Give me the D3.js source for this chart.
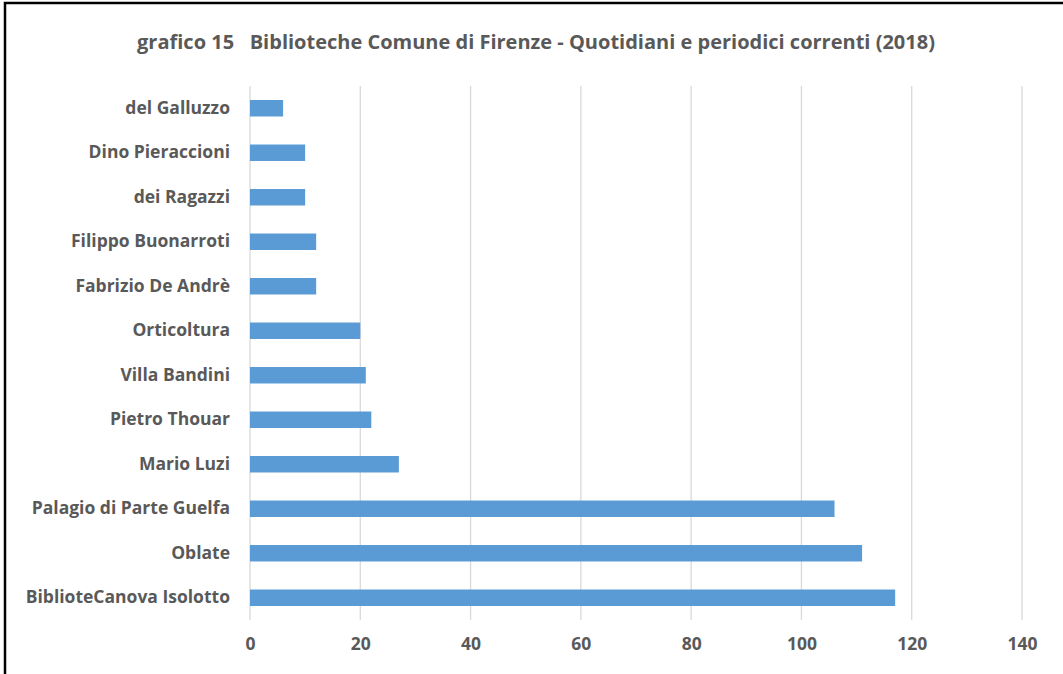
<!DOCTYPE html>
<html>
<head>
<meta charset="utf-8">
<script src="https://cdn.jsdelivr.net/npm/d3@7"></script>
<style>
  body { margin: 0; background: #fff; }
  text { font-family: "Open Sans", sans-serif; font-weight: bold; fill: #595959; }
</style>
</head>
<body>
<div id="graf"></div>
<script>
// dati
const biblioteche = ['del Galluzzo', 'Dino Pieraccioni', 'dei Ragazzi', 'Filippo Buonarroti',
  'Fabrizio De Andrè', 'Orticoltura', 'Villa Bandini', 'Pietro Thouar', 'Mario Luzi',
  'Palagio di Parte Guelfa', 'Oblate', 'BiblioteCanova Isolotto']
const periodici = [6, 10, 10, 12, 12, 20, 21, 22, 27, 106, 111, 117]
const ticks = [0, 20, 40, 60, 80, 100, 120, 140]
const titolo = 'grafico 15   Biblioteche Comune di Firenze - Quotidiani e periodici correnti (2018)'

const ancho_total = 1063
const alto_total = 674

const svg = d3.select('#graf').append('svg')
  .attr('width', ancho_total)
  .attr('height', alto_total)

// bordo
svg.append('rect')
  .attr('x', 5).attr('y', 3)
  .attr('width', 1070).attr('height', 700)
  .attr('fill', 'none').attr('stroke', '#000').attr('stroke-width', 2.5)

const margins = { left: 250, right: 41, top: 86, bottom: 54 }

const x = d3.scaleLinear().domain([0, 140]).range([margins.left, ancho_total - margins.right])
const y = d3.scaleBand().domain(biblioteche)
  .range([margins.top, alto_total - margins.bottom])
  .paddingInner(0.63).paddingOuter(0.315)

// griglia
svg.append('g').selectAll('line')
  .data(ticks)
  .enter().append('line')
  .attr('x1', d => x(d)).attr('x2', d => x(d))
  .attr('y1', margins.top).attr('y2', alto_total - margins.bottom)
  .attr('stroke', '#d9d9d9').attr('stroke-width', 1.3)

// barre
svg.append('g').selectAll('rect')
  .data(periodici)
  .enter().append('rect')
  .attr('x', x(0))
  .attr('y', (d, i) => y(biblioteche[i]))
  .attr('width', d => x(d) - x(0))
  .attr('height', y.bandwidth())
  .attr('fill', '#5b9bd5')

// asse x
const xAxis = d3.axisBottom(x).tickValues(ticks).tickSize(0).tickPadding(18)
svg.append('g')
  .attr('transform', `translate(0,${ alto_total - margins.bottom })`)
  .call(xAxis)
  .call(g => g.select('.domain').remove())
  .selectAll('text')
  .style('font-size', '17.5px')
  .style('font-family', '"Open Sans", sans-serif')
  .attr('fill', '#595959')

// asse y
const yAxis = d3.axisLeft(y).tickSize(0).tickPadding(20)
svg.append('g')
  .attr('transform', `translate(${ margins.left },0)`)
  .call(yAxis)
  .call(g => g.select('.domain').remove())
  .selectAll('text')
  .style('font-size', '17.5px')
  .style('font-family', '"Open Sans", sans-serif')
  .attr('fill', '#595959')

// titolo
svg.append('text')
  .attr('x', 536).attr('y', 49)
  .attr('text-anchor', 'middle')
  .style('font-size', '20px')
  .attr('xml:space', 'preserve')
  .text(titolo)
</script>
</body>
</html>
